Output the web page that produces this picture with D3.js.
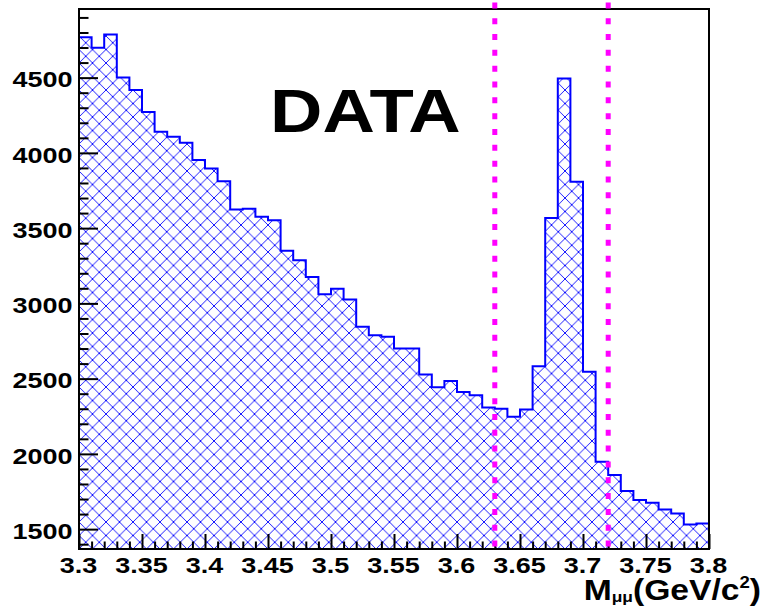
<!DOCTYPE html>
<html>
<head>
<meta charset="utf-8">
<script src="https://cdn.jsdelivr.net/npm/d3@7"></script>
<style>
  html, body { margin: 0; padding: 0; background: #fff; }
  svg { display: block; }
  text { font-family: "Liberation Sans", Arial, Helvetica, sans-serif; font-weight: bold; fill: #000; }
</style>
</head>
<body>
<script>
// Dimuon invariant mass histogram, 50 bins of 10 MeV from 3.3 to 3.8 GeV/c^2
const binLow = 3.3;
const binWidth = 0.01;
const counts = [
  4769, 4698, 4787, 4501, 4417, 4271, 4140, 4107, 4067, 3952,
  3897, 3812, 3624, 3628, 3575, 3553, 3349, 3287, 3176, 3061,
  3097, 3026, 2844, 2789, 2779, 2701, 2701, 2527, 2442, 2485,
  2412, 2390, 2309, 2300, 2246, 2295, 2583, 3568, 4495, 3808,
  2545, 1947, 1859, 1754, 1693, 1675, 1631, 1604, 1531, 1538
];
const xDomain = [3.3, 3.8];
const yDomain = [1368, 4956];
const xMajorTicks = [3.3, 3.35, 3.4, 3.45, 3.5, 3.55, 3.6, 3.65, 3.7, 3.75, 3.8];
const yMajorTicks = [1500, 2000, 2500, 3000, 3500, 4000, 4500];
const cutLines = [3.63, 3.72];      // signal window boundaries
const cutSpan = [1350, 5000];       // vertical extent of the window lines
const label = "DATA";

const W = 769, H = 606;
const frame = { left: 79, right: 709, top: 9, bottom: 549 };

const svg = d3.select("body").append("svg")
  .attr("width", W).attr("height", H);

const x = d3.scaleLinear().domain(xDomain).range([frame.left, frame.right]);
const y = d3.scaleLinear().domain(yDomain).range([frame.bottom, frame.top]);

// cross-hatch fill pattern
const hs = 13.5;
const defs = svg.append("defs");
defs.append("pattern")
  .attr("id", "xhatch")
  .attr("patternUnits", "userSpaceOnUse")
  .attr("width", hs).attr("height", hs)
  .attr("patternTransform", `translate(${frame.left},${frame.bottom})`)
  .append("path")
  .attr("d", [
    `M${-hs},${-hs}L${2*hs},${2*hs}`,
    `M0,${-hs}L${2*hs},${hs}`,
    `M${-hs},0L${hs},${2*hs}`,
    `M${-hs},${2*hs}L${2*hs},${-hs}`,
    `M${-hs},${hs}L${hs},${-hs}`,
    `M0,${2*hs}L${2*hs},0`
  ].join(""))
  .attr("stroke", "#0000ff")
  .attr("stroke-width", 0.9)
  .attr("fill", "none");

defs.append("clipPath").attr("id", "frameClip")
  .append("rect")
  .attr("x", frame.left).attr("y", frame.top)
  .attr("width", frame.right - frame.left)
  .attr("height", frame.bottom - frame.top);

// histogram steps: one point per low edge plus the final high edge
const stepPts = counts.map((c, i) => [binLow + i * binWidth, c]);
stepPts.push([binLow + counts.length * binWidth, counts[counts.length - 1]]);

const plot = svg.append("g").attr("clip-path", "url(#frameClip)");

plot.append("path")
  .datum(stepPts)
  .attr("fill", "url(#xhatch)")
  .attr("d", d3.area()
    .x(d => x(d[0]))
    .y0(frame.bottom)
    .y1(d => y(d[1]))
    .curve(d3.curveStepAfter));

plot.append("path")
  .datum(stepPts)
  .attr("fill", "none")
  .attr("stroke", "#0000ff")
  .attr("stroke-width", 2)
  .attr("d", d3.line()
    .x(d => x(d[0]))
    .y(d => y(d[1]))
    .curve(d3.curveStepAfter));

// frame
svg.append("rect")
  .attr("x", frame.left).attr("y", frame.top)
  .attr("width", frame.right - frame.left)
  .attr("height", frame.bottom - frame.top)
  .attr("fill", "none")
  .attr("stroke", "#000")
  .attr("stroke-width", 2);

// y axis: ticks pointing into the frame, labels to the left
const yMinor = d3.range(1400, 4901, 100).filter(v => !yMajorTicks.includes(v));
svg.append("g")
  .attr("transform", `translate(${frame.left},0)`)
  .call(d3.axisLeft(y).tickValues(yMinor).tickSize(-9.5).tickFormat(""))
  .call(g => g.select(".domain").remove())
  .call(g => g.selectAll("line").attr("stroke-width", 2));

const yAxis = svg.append("g")
  .attr("transform", `translate(${frame.left},0)`)
  .call(d3.axisLeft(y).tickValues(yMajorTicks).tickSize(-19).tickFormat(d3.format("d")))
  .call(g => g.select(".domain").remove())
  .call(g => g.selectAll("line").attr("stroke-width", 2));
yAxis.attr("font-size", null).attr("font-family", null);
yAxis.selectAll("text")
  .attr("x", 0).attr("dy", null)
  .attr("fill", "#000")
  .style("font-size", "22.5px")
  .attr("transform", "translate(-6.5,9.3) scale(1.2,1)");

// x axis: ticks pointing up into the frame, labels below
const xMinor = d3.range(0, 51).map(i => +(binLow + i * binWidth).toFixed(2))
  .filter(v => !xMajorTicks.some(t => Math.abs(t - v) < 1e-9));
svg.append("g")
  .attr("transform", `translate(0,${frame.bottom})`)
  .call(d3.axisBottom(x).tickValues(xMinor).tickSize(-7.5).tickFormat(""))
  .call(g => g.select(".domain").remove())
  .call(g => g.selectAll("line").attr("stroke-width", 2));

const xAxis = svg.append("g")
  .attr("transform", `translate(0,${frame.bottom})`)
  .call(d3.axisBottom(x).tickValues(xMajorTicks).tickSize(-15).tickFormat(d => String(+d.toFixed(2))))
  .call(g => g.select(".domain").remove())
  .call(g => g.selectAll("line").attr("stroke-width", 2));
xAxis.attr("font-size", null).attr("font-family", null);
xAxis.selectAll("text")
  .attr("y", 0).attr("dy", null)
  .attr("fill", "#000")
  .style("font-size", "22.5px")
  .attr("transform", "translate(-1,24.3) scale(1.2,1)");

// x axis title: M_{mu mu}(GeV/c^2)
const title = svg.append("text")
  .attr("text-anchor", "end")
  .attr("transform", "translate(761,599.5) scale(1.16,1)")
  .style("font-size", "29px");
title.append("tspan").text("M");
title.append("tspan").style("font-size", "15px").attr("dy", 2.5).text("μμ");
title.append("tspan").attr("dy", -2.5).text("(GeV/c");
title.append("tspan").style("font-size", "16px").attr("dy", -12).text("2");
title.append("tspan").attr("dy", 12).text(")");

// sample label
svg.append("text")
  .attr("transform", "translate(270,131.7) scale(1.17,1)")
  .style("font-size", "62px")
  .text(label);

// signal window lines
svg.selectAll("line.cut")
  .data(cutLines)
  .join("line")
  .attr("class", "cut")
  .attr("x1", d => x(d)).attr("x2", d => x(d))
  .attr("y1", y(cutSpan[1])).attr("y2", y(cutSpan[0]))
  .attr("stroke", "#ff00ff")
  .attr("stroke-width", 5)
  .attr("stroke-dasharray", "6 9.83");
</script>
</body>
</html>
